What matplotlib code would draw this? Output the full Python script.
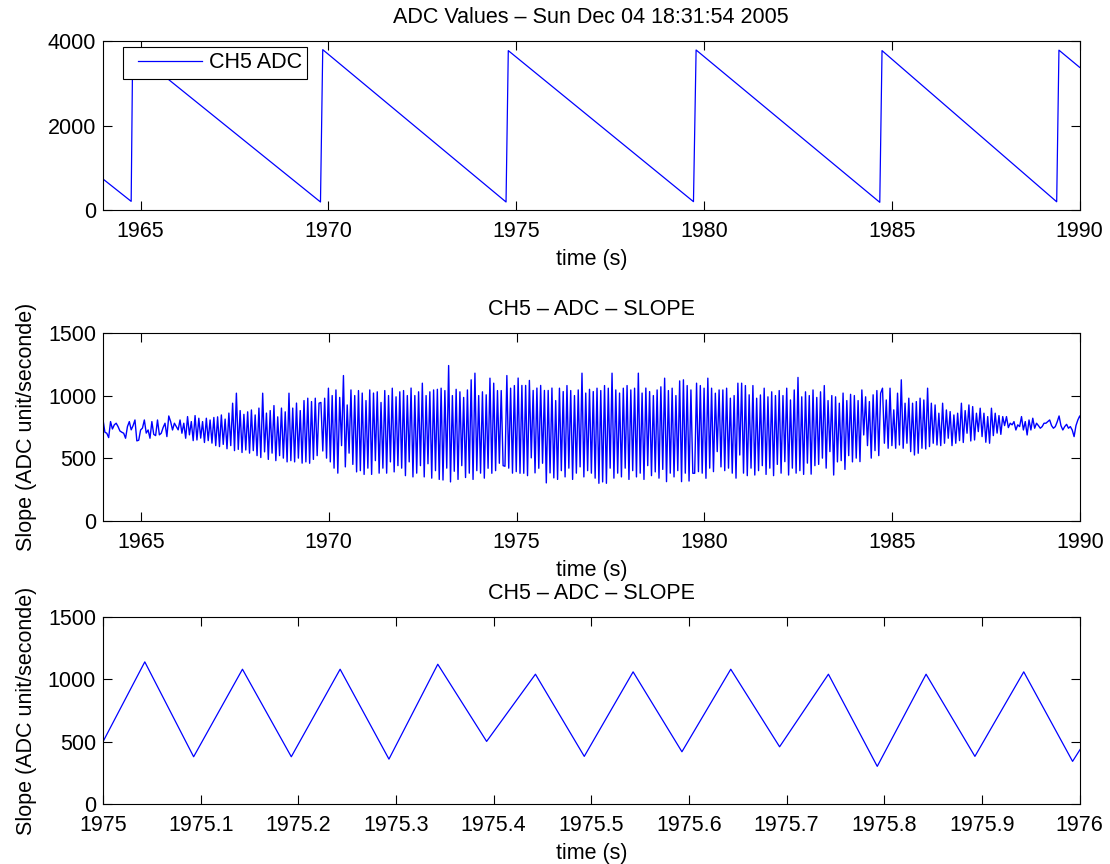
import matplotlib
matplotlib.use('Agg')
import matplotlib.pyplot as plt
from matplotlib.legend_handler import HandlerLine2D
import numpy as np

plt.rcParams['font.family'] = ['Liberation Sans', 'DejaVu Sans']
FS = 15.5
plt.rcParams['font.size'] = FS

# ---------------- data ----------------
title_top = 'ADC Values \u2013 Sun Dec 04 18:31:54 2005'
title_slope = 'CH5 \u2013 ADC \u2013 SLOPE'
legend_label = 'CH5 ADC'
xlabel = 'time (s)'
ylabel_slope = 'Slope (ADC unit/seconde)'

# ADC sawtooth (turning points)
adc_t = [1964.0, 1964.75, 1964.79, 1969.79, 1969.85, 1974.73, 1974.79,
         1979.72, 1979.79, 1984.68, 1984.74, 1989.39, 1989.45, 1990.0]
adc_v = [735, 205, 3780, 190, 3802, 190, 3779, 198, 3794, 182, 3779, 195, 3790, 3383]

# slope samples, 20 per second, first sample at 1963.9928 s
slope_t0 = 1963.9928
slope_dt = 0.05
s1964 = [805, 707, 699, 664, 792, 733, 766, 779, 752, 717, 707, 699, 659, 752, 792, 726, 760, 805, 638, 643]
s1965 = [725, 740, 805, 700, 725, 659, 792, 690, 680, 805, 686, 699, 745, 779, 672, 837, 792, 725, 779, 752]
s1966 = [726, 805, 699, 779, 659, 832, 686, 792, 640, 840, 645, 819, 660, 792, 625, 819, 640, 805, 620, 825]
s1967 = [600, 830, 592, 845, 610, 812, 575, 860, 600, 939, 560, 1019, 570, 880, 545, 850, 565, 870, 540, 885]
s1968 = [560, 845, 520, 900, 505, 1019, 550, 860, 490, 880, 540, 920, 480, 830, 520, 900, 500, 870, 470, 1019]
s1969 = [480, 900, 470, 940, 500, 880, 460, 960, 470, 979, 459, 952, 490, 979, 520, 939, 945, 557, 979, 500]
s1970 = [1059, 470, 1000, 420, 1045, 380, 985, 600, 1160, 430, 925, 540, 1045, 450, 1000, 390, 1040, 400, 1020, 370]
s1971 = [960, 420, 1045, 370, 1020, 480, 1030, 380, 945, 420, 1040, 380, 1000, 470, 1059, 390, 990, 440, 1030, 420]
s1972 = [1040, 360, 1000, 470, 1060, 350, 1000, 380, 1030, 440, 1099, 350, 1000, 455, 1030, 340, 1045, 400, 1050, 330]
s1973 = [1059, 325, 1040, 420, 1240, 310, 1000, 395, 1050, 330, 1030, 440, 985, 345, 1045, 380, 1126, 330, 1179, 400]
s1974 = [1000, 380, 1030, 340, 1006, 419, 1139, 379, 1099, 400, 1040, 459, 1040, 440, 435, 1160, 420, 1059, 380, 1080]
s1975 = [392, 1140, 379, 1081, 379, 1081, 360, 1121, 502, 1041, 382, 1060, 419, 1081, 459, 1041, 302, 1041, 382, 1060]
s1976 = [342, 960, 330, 1059, 400, 1032, 350, 1080, 420, 1040, 330, 1000, 380, 1045, 430, 1179, 350, 1020, 400, 1050]
s1977 = [380, 1032, 340, 1059, 299, 1040, 310, 1080, 299, 1059, 420, 1179, 340, 1045, 380, 1020, 350, 1059, 420, 1080]
s1978 = [330, 1045, 400, 1059, 350, 1179, 380, 1020, 330, 1060, 440, 1032, 360, 1000, 390, 1045, 340, 1070, 410, 1139]
s1979 = [312, 1040, 380, 1059, 350, 1000, 400, 1117, 312, 1126, 380, 1080, 317, 1045, 379, 379, 1099, 392, 1080, 380]
s1980 = [1059, 339, 1139, 420, 1059, 392, 1019, 552, 1045, 430, 1045, 400, 1059, 420, 979, 380, 1000, 340, 1099, 525]
s1981 = [1099, 380, 1080, 360, 1006, 420, 1080, 365, 979, 400, 1005, 440, 1059, 370, 990, 420, 1030, 360, 1000, 450]
s1982 = [1040, 380, 1000, 472, 1059, 365, 965, 420, 1045, 380, 1145, 400, 990, 370, 1030, 460, 1000, 372, 1045, 440]
s1983 = [985, 450, 1030, 500, 1080, 420, 960, 552, 1000, 365, 990, 470, 939, 480, 1020, 410, 960, 520, 1010, 470]
s1984 = [1000, 500, 960, 472, 1045, 685, 990, 600, 952, 500, 1006, 560, 1040, 520, 1019, 1059, 619, 965, 579, 1059]
s1985 = [600, 886, 579, 1019, 605, 1126, 579, 939, 619, 979, 552, 939, 525, 952, 539, 979, 579, 965, 573, 1059]
s1986 = [592, 939, 619, 925, 605, 859, 600, 939, 619, 885, 659, 872, 600, 845, 619, 859, 640, 939, 625, 880]
s1987 = [699, 925, 637, 912, 645, 859, 712, 899, 672, 859, 627, 832, 619, 899, 680, 859, 700, 840, 690, 832]
s1988 = [760, 832, 744, 779, 766, 792, 725, 766, 752, 832, 725, 792, 685, 805, 725, 819, 739, 779, 760, 739]
s1989 = [752, 779, 779, 792, 805, 760, 739, 752, 790, 837, 760, 725, 752, 770, 739, 752, 725, 672, 760, 805]
s1990 = [837, 800]

slope_v = np.array(s1964 + s1965 + s1966 + s1967 + s1968 + s1969 + s1970 + s1971 +
                   s1972 + s1973 + s1974 + s1975 + s1976 + s1977 + s1978 + s1979 +
                   s1980 + s1981 + s1982 + s1983 + s1984 + s1985 + s1986 + s1987 +
                   s1988 + s1989 + s1990, dtype=float)
slope_t = slope_t0 + slope_dt * np.arange(len(slope_v))

top_xticks = [1965, 1970, 1975, 1980, 1985, 1990]
top_yticks = [0, 2000, 4000]
mid_xticks = [1965, 1970, 1975, 1980, 1985, 1990]
slope_yticks = [0, 500, 1000, 1500]
bot_xticks = [1975.0, 1975.1, 1975.2, 1975.3, 1975.4, 1975.5, 1975.6, 1975.7, 1975.8, 1975.9, 1976.0]
bot_xticklabels = ['1975', '1975.1', '1975.2', '1975.3', '1975.4', '1975.5',
                   '1975.6', '1975.7', '1975.8', '1975.9', '1976']

# ---------------- figure ----------------
W, H = 1110, 864
fig = plt.figure(figsize=(W / 100, H / 100), dpi=100)
fig.patch.set_facecolor('white')


def axpos(l, t, r, b):
    return [l / W, 1 - b / H, (r - l) / W, (b - t) / H]


ax1 = fig.add_axes(axpos(103, 41.3, 1079.6, 210))
ax2 = fig.add_axes(axpos(103.3, 333, 1080, 520.7))
ax3 = fig.add_axes(axpos(103, 617, 1079.6, 804))

blue = (0, 0, 1)


def style(ax):
    for s in ax.spines.values():
        s.set_linewidth(0.8)
        s.set_color('black')
    ax.tick_params(direction='in', top=True, right=True, length=6.5, width=0.8,
                   labelsize=FS)
    ax.tick_params(axis='x', pad=8.2)
    ax.tick_params(axis='y', pad=5)


class InsetLineHandler(HandlerLine2D):
    """Legend line that starts a little inside its handle box (MATLAB look)."""
    def create_artists(self, legend, orig_handle, xdescent, ydescent, width,
                       height, fontsize, trans):
        arts = super().create_artists(legend, orig_handle, xdescent, ydescent,
                                      width, height, fontsize, trans)
        line = arts[0]
        xd = np.array(line.get_xdata(), dtype=float)
        xd[0] = xd[0] + 0.46 * fontsize
        line.set_xdata(xd)
        return arts


# top
ln, = ax1.plot(adc_t, adc_v, color=blue, lw=0.9, label=legend_label)
ax1.set_xlim(1964, 1990)
ax1.set_ylim(0, 4000)
ax1.set_xticks(top_xticks)
ax1.set_yticks(top_yticks)
ax1.set_title(title_top, fontsize=FS, pad=13)
ax1.set_xlabel(xlabel, fontsize=FS, labelpad=5)
style(ax1)
leg = ax1.legend(handles=[ln], loc='upper left', bbox_to_anchor=(0.0205, 0.966),
                 borderaxespad=0, fancybox=False, edgecolor='black', framealpha=1,
                 fontsize=FS, handlelength=3.44, handletextpad=0.3, borderpad=0.25,
                 handler_map={ln: InsetLineHandler()})
leg.get_frame().set_linewidth(0.8)

# middle
ax2.plot(slope_t, slope_v, color=blue, lw=1.0)
ax2.set_xlim(1964, 1990)
ax2.set_ylim(0, 1500)
ax2.set_xticks(mid_xticks)
ax2.set_yticks(slope_yticks)
ax2.set_title(title_slope, fontsize=FS, pad=13)
ax2.set_xlabel(xlabel, fontsize=FS, labelpad=5)
ax2.set_ylabel(ylabel_slope, fontsize=FS, labelpad=8)
style(ax2)

# bottom
ax3.plot(slope_t, slope_v, color=blue, lw=0.9)
ax3.set_xlim(1975, 1976)
ax3.set_ylim(0, 1500)
ax3.set_xticks(bot_xticks)
ax3.set_xticklabels(bot_xticklabels)
ax3.set_yticks(slope_yticks)
ax3.set_title(title_slope, fontsize=FS, pad=13)
ax3.set_xlabel(xlabel, fontsize=FS, labelpad=5)
ax3.set_ylabel(ylabel_slope, fontsize=FS, labelpad=8)
style(ax3)

fig.savefig('out.png', dpi=100, facecolor='white')
